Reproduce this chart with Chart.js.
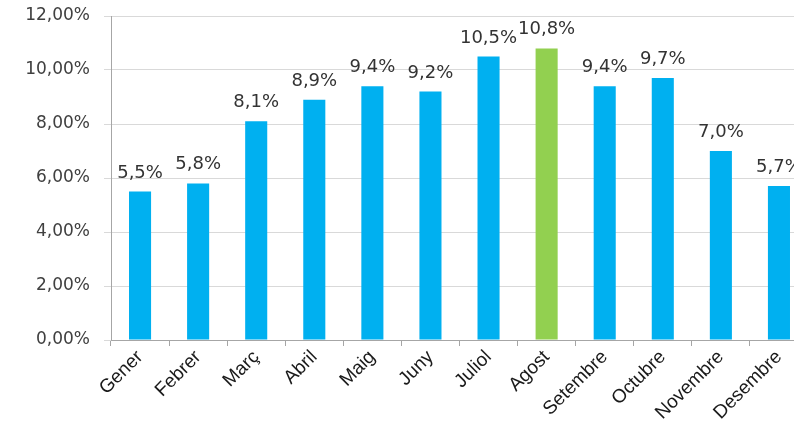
<!DOCTYPE html>
<html>
<head>
<meta charset="utf-8">
<script src="https://cdn.jsdelivr.net/npm/chart.js@4"></script>
<style>
html,body{margin:0;padding:0;background:#fff;overflow:hidden;width:794px;height:424px;}
#wrap{position:absolute;left:0;top:0;width:808px;height:424px;}
</style>
</head>
<body>
<div id="wrap"><canvas id="c"></canvas></div>
<script>
const categories = ["Gener","Febrer","Març","Abril","Maig","Juny","Juliol","Agost","Setembre","Octubre","Novembre","Desembre"];
const values = [5.5,5.8,8.1,8.9,9.4,9.2,10.5,10.8,9.4,9.7,7.0,5.7];
const valueLabels = ["5,5%","5,8%","8,1%","8,9%","9,4%","9,2%","10,5%","10,8%","9,4%","9,7%","7,0%","5,7%"];
const highlightIndex = 7;

const colors = categories.map((c,i)=> i===highlightIndex ? '#92D050' : '#00B0F0');

const labelPlugin = {
  id:'valueLabels',
  afterDatasetsDraw(chart){
    const ctx = chart.ctx;
    const meta = chart.getDatasetMeta(0);
    ctx.save();
    ctx.font = '18px "DejaVu Sans"';
    ctx.fillStyle = '#333333';
    ctx.textAlign = 'center';
    ctx.textBaseline = 'alphabetic';
    meta.data.forEach((bar,i)=>{
      ctx.fillText(valueLabels[i], bar.x, bar.y - 14);
    });
    ctx.restore();
  }
};

new Chart(document.getElementById('c'), {
  type:'bar',
  data:{
    labels:categories,
    datasets:[{data:values, backgroundColor:colors, borderWidth:0, categoryPercentage:1, barPercentage:0.38}]
  },
  options:{
    responsive:true,
    maintainAspectRatio:false,
    animation:false,
    layout:{padding:{top:16,right:0,left:0,bottom:0}},
    plugins:{legend:{display:false},tooltip:{enabled:false}},
    scales:{
      x:{
        offset:true,
        grid:{display:true, drawOnChartArea:false, offset:true, tickLength:6, color:'#a6a6a6'},
        border:{display:true, color:'#a6a6a6'},
        ticks:{maxRotation:45, minRotation:45, color:'#1a1a1a', font:{family:'"Liberation Sans"', size:19}, padding:0},
        afterFit(s){ s.height = 84; s.paddingLeft = 0; s.paddingRight = 0; }
      },
      y:{
        min:0, max:12,
        grid:{color:'#d9d9d9', tickLength:7},
        border:{display:true, color:'#a6a6a6'},
        ticks:{stepSize:2, color:'#404040', font:{family:'"DejaVu Sans"', size:17}, padding:14,
          callback:(v)=> v.toFixed(2).replace('.',',') + '%'},
        afterFit(s){ s.width = 111; s.paddingTop = 0; s.paddingBottom = 0; }
      }
    }
  },
  plugins:[labelPlugin]
});
</script>
</body>
</html>
